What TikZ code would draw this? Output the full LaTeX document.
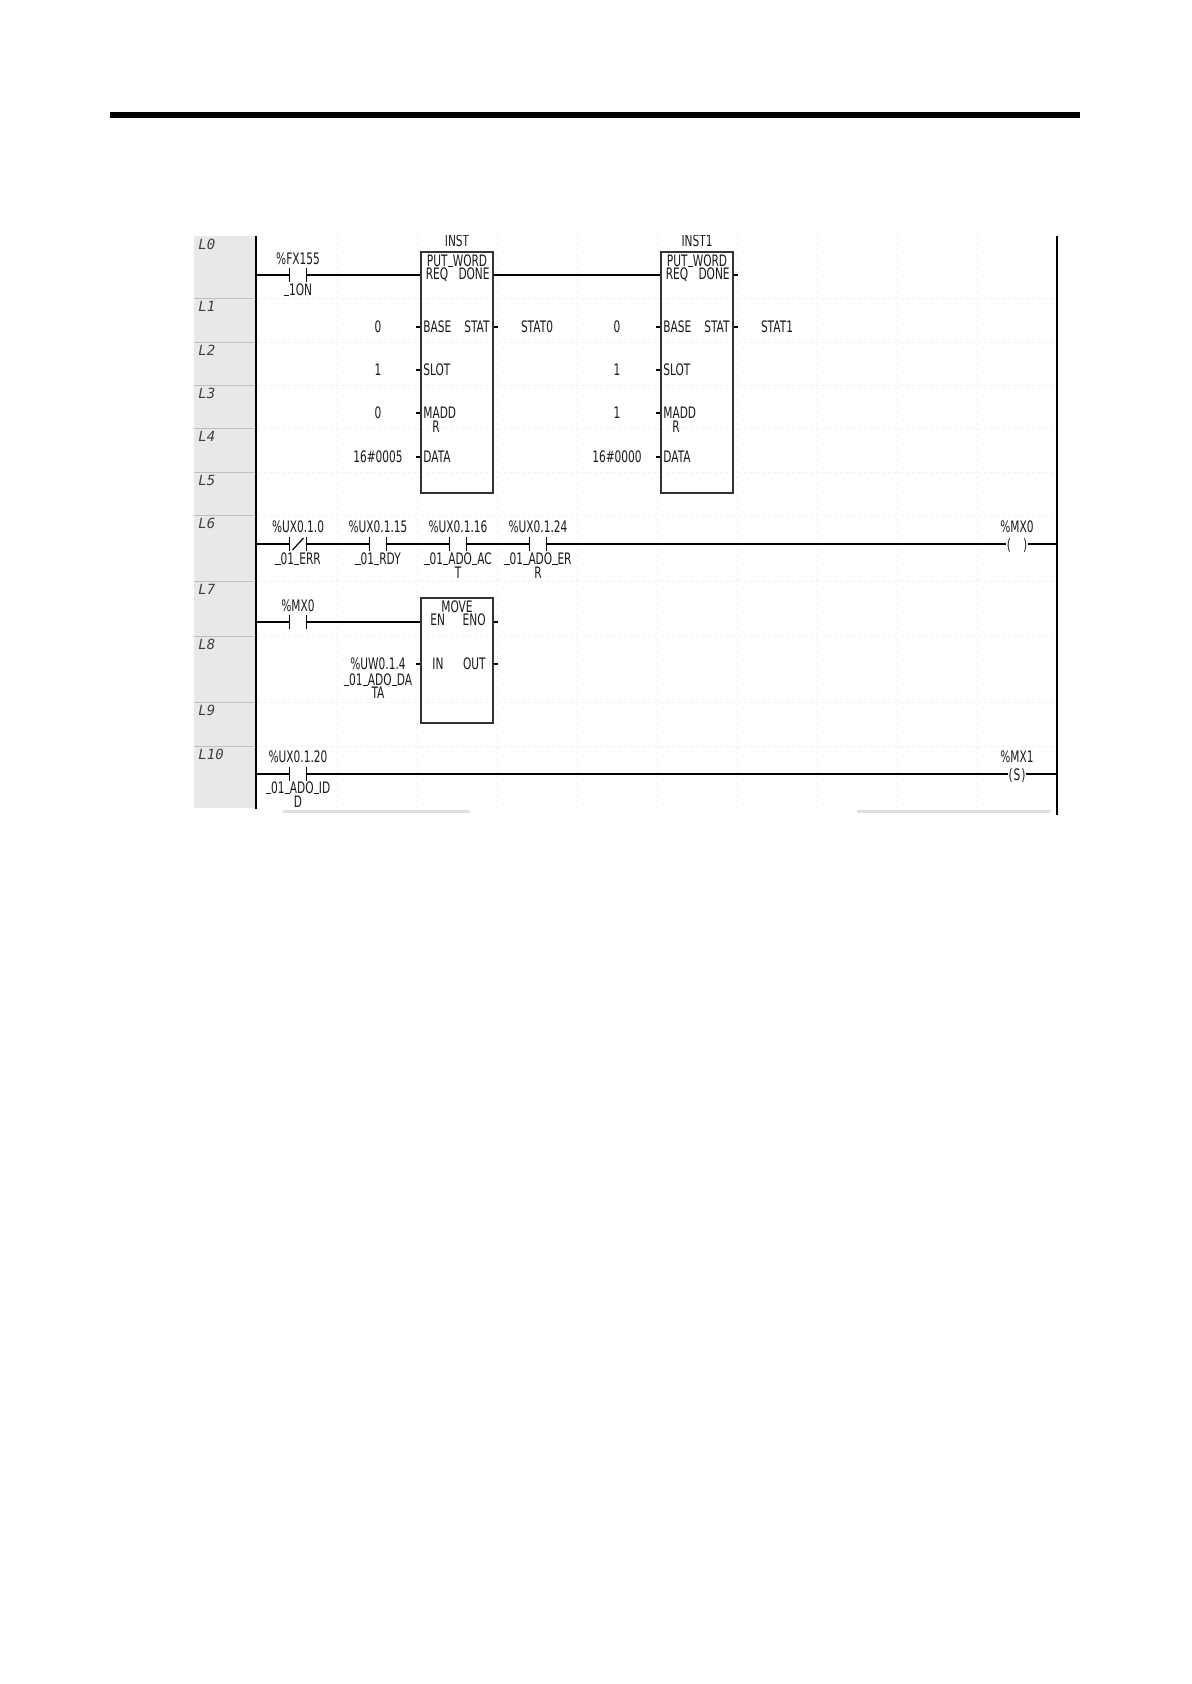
\documentclass[tikz,border=0pt]{standalone}
\usepackage{fontspec}
\newfontfamily\plcfont{DejaVu Sans}[FakeStretch=0.67]
\newfontfamily\rowfont{DejaVu Sans Mono}
\newcommand\usc{\rule{\fontcharwd\font`\_}{0.5pt}}

\tikzset{
	lbl/.style={font=\plcfont\fontsize{7.9}{7.9}\selectfont, inner sep=0pt, text height=5.7pt, text depth=0pt, text=black!90},
	rowlbl/.style={font=\rowfont\itshape\fontsize{7}{7}\selectfont, inner sep=0pt, anchor=west, text=black!75},
	fblock/.style={draw=black!80, line width=0.7pt, minimum width=36pt, inner sep=0pt},
	contact/.style={minimum width=8pt, minimum height=6.5pt, inner sep=0pt},
	rung/.style={line width=0.6pt},
	rail/.style={line width=1.1pt},
	grid line/.style={gray!12, line width=0.4pt, dash pattern=on 1.5pt off 1.5pt}
}

\begin{document}
\begin{tikzpicture}[x=0.5pt,y=-0.5pt]
	\useasboundingbox (0,0) rectangle (1191,1684);
	\draw[line width=3pt] (110,115) -- (1080,115);

	\begin{scope}
	\clip (194,236) rectangle (1062,816);

	% row header and grid
	\fill[gray!18] (194,236) rectangle (255,808);
	\foreach \y in {298,342,385,428,472,515,581,636,702,746} {
		\draw[gray!50, line width=0.4pt] (194,\y) -- (255,\y);
		\draw[grid line] (258,\y) -- (1056,\y);
	}
	\foreach \x in {337,417,...,977}
		\draw[grid line] (\x,236) -- (\x,808);
	\foreach \n/\y in {0/236,1/298,2/342,3/385,4/428,5/472,6/515,7/581,8/636,9/702,10/746}
		\node[rowlbl] (row\n) at (198,\y+8) {L\n};

	% power rails
	\coordinate (lt) at (256,236);
	\coordinate (lb) at (256,809);
	\coordinate (rt) at (1057,236);
	\coordinate (rb) at (1057,815);
	\draw[rail] (lt) -- (lb);
	\draw[rail] (rt) -- (rb);

	% status bar
	\fill[gray!25] (283,809.5) rectangle (470,812.5);
	\fill[gray!25] (857,809.5) rectangle (1050,812.5);

	% rung L0
	\node[contact] (k0) at (298,275) {};
	\node[lbl] (k0top) at (298,259) {\%FX155};
	\node[lbl] (k0bot) at (298,290) {\usc1ON};

	\node[fblock, minimum height=120.5pt] (b1) at (457,372.5) {};
	\node[lbl] (b1name) at (457,241) {INST};
	\node[lbl] (b1type) at (457,261) {PUT\usc WORD};
	\node[lbl] (b1req) at (437,274) {REQ};
	\node[lbl, anchor=east] (b1done) at (490,274) {DONE};
	\node[lbl, anchor=west] (b1base) at (423,327) {BASE};
	\node[lbl, anchor=east] (b1stat) at (490,327) {STAT};
	\node[lbl, anchor=west] (b1slot) at (423,370) {SLOT};
	\node[lbl, anchor=west] (b1madd) at (423,413) {MADD};
	\node[lbl] (b1maddr) at (436,427) {R};
	\node[lbl, anchor=west] (b1data) at (423,457) {DATA};
	\node[lbl] (v1base) at (378,327) {0};
	\node[lbl] (v1slot) at (378,370) {1};
	\node[lbl] (v1madd) at (378,413) {0};
	\node[lbl] (v1data) at (378,457) {16\#0005};
	\node[lbl] (v1stat) at (537,327) {STAT0};

	\node[fblock, minimum height=120.5pt] (b2) at (697,372.5) {};
	\node[lbl] (b2name) at (697,241) {INST1};
	\node[lbl] (b2type) at (697,261) {PUT\usc WORD};
	\node[lbl] (b2req) at (677,274) {REQ};
	\node[lbl, anchor=east] (b2done) at (730,274) {DONE};
	\node[lbl, anchor=west] (b2base) at (663,327) {BASE};
	\node[lbl, anchor=east] (b2stat) at (730,327) {STAT};
	\node[lbl, anchor=west] (b2slot) at (663,370) {SLOT};
	\node[lbl, anchor=west] (b2madd) at (663,413) {MADD};
	\node[lbl] (b2maddr) at (676,427) {R};
	\node[lbl, anchor=west] (b2data) at (663,457) {DATA};
	\node[lbl] (v2base) at (617,327) {0};
	\node[lbl] (v2slot) at (617,370) {1};
	\node[lbl] (v2madd) at (617,413) {1};
	\node[lbl] (v2data) at (617,457) {16\#0000};
	\node[lbl] (v2stat) at (777,327) {STAT1};

	\draw[rung] (lt |- k0) -- (k0.west);
	\draw[rung] (k0.east) -- (b1.west |- k0);
	\draw[rung] (b1.east |- k0) -- (b2.west |- k0);
	\draw[rung] (b2.east |- k0) -- ++(4,0);
	\draw[rung] (b1base -| b1.west) -- ++(-4,0);
	\draw[rung] (b1slot -| b1.west) -- ++(-4,0);
	\draw[rung] (b1madd -| b1.west) -- ++(-4,0);
	\draw[rung] (b1data -| b1.west) -- ++(-4,0);
	\draw[rung] (b1stat -| b1.east) -- ++(4,0);
	\draw[rung] (b2base -| b2.west) -- ++(-4,0);
	\draw[rung] (b2slot -| b2.west) -- ++(-4,0);
	\draw[rung] (b2madd -| b2.west) -- ++(-4,0);
	\draw[rung] (b2data -| b2.west) -- ++(-4,0);
	\draw[rung] (b2stat -| b2.east) -- ++(4,0);

	% rung L6
	\node[contact] (k1) at (298,544) {};
	\node[contact] (k2) at (378,544) {};
	\node[contact] (k3) at (458,544) {};
	\node[contact] (k4) at (538,544) {};
	\node[lbl] (k1top) at (298,527) {\%UX0.1.0};
	\node[lbl] (k1bot) at (298,559) {\usc01\usc ERR};
	\node[lbl] (k2top) at (378,527) {\%UX0.1.15};
	\node[lbl] (k2bot) at (378,559) {\usc01\usc RDY};
	\node[lbl] (k3top) at (458,527) {\%UX0.1.16};
	\node[lbl] (k3bot) at (458,559) {\usc01\usc ADO\usc AC};
	\node[lbl] (k3bot2) at (458,573) {T};
	\node[lbl] (k4top) at (538,527) {\%UX0.1.24};
	\node[lbl] (k4bot) at (538,559) {\usc01\usc ADO\usc ER};
	\node[lbl] (k4bot2) at (538,573) {R};
	\node[lbl] (q0) at (1017,545) {(\hspace{6pt})};
	\node[lbl] (q0top) at (1017,527) {\%MX0};

	\draw[rung] (lt |- k1) -- (k1.west);
	\draw[rung] (k1.east) -- (k2.west);
	\draw[rung] (k2.east) -- (k3.west);
	\draw[rung] (k3.east) -- (k4.west);
	\draw[rung] (k4.east) -- (q0.west |- k4);
	\draw[rung] (q0.east |- k4) -- (rt |- k4);
	\draw[rung] ([shift={(3,-1)}]k1.south west) -- ([shift={(-3,1)}]k1.north east);

	% rung L7
	\node[contact] (k5) at (298,622) {};
	\node[lbl] (k5top) at (298,606) {\%MX0};
	\node[fblock, minimum height=62.5pt] (m1) at (457,660.5) {};
	\node[lbl] (m1type) at (457,607) {MOVE};
	\node[lbl, anchor=west] (m1en) at (430,620) {EN};
	\node[lbl, anchor=east] (m1eno) at (486,620) {ENO};
	\node[lbl, anchor=west] (m1in) at (432,664) {IN};
	\node[lbl, anchor=east] (m1out) at (486,664) {OUT};
	\node[lbl] (v3in) at (378,664) {\%UW0.1.4};
	\node[lbl] (v3in2) at (378,680) {\usc01\usc ADO\usc DA};
	\node[lbl] (v3in3) at (378,693) {TA};

	\draw[rung] (lt |- k5) -- (k5.west);
	\draw[rung] (k5.east) -- (m1.west |- k5);
	\draw[rung] (m1.east |- k5) -- ++(4,0);
	\draw[rung] (m1in -| m1.west) -- ++(-4,0);
	\draw[rung] (m1out -| m1.east) -- ++(4,0);

	% rung L10
	\node[contact] (k6) at (298,774) {};
	\node[lbl] (k6top) at (298,757) {\%UX0.1.20};
	\node[lbl] (k6bot) at (298,788) {\usc01\usc ADO\usc ID};
	\node[lbl] (k6bot2) at (298,802) {D};
	\node[lbl] (q1) at (1017,775) {(\hspace{0.5pt}S\hspace{0.5pt})};
	\node[lbl] (q1top) at (1017,757) {\%MX1};

	\draw[rung] (lt |- k6) -- (k6.west);
	\draw[rung] (k6.east) -- (q1.west |- k6);
	\draw[rung] (q1.east |- k6) -- (rt |- k6);

	% contact bars
	\foreach \k in {k0,k1,k2,k3,k4,k5,k6}
		\draw[rung] (\k.north west) -- (\k.south west) (\k.north east) -- (\k.south east);
	\end{scope}
\end{tikzpicture}
\end{document}
